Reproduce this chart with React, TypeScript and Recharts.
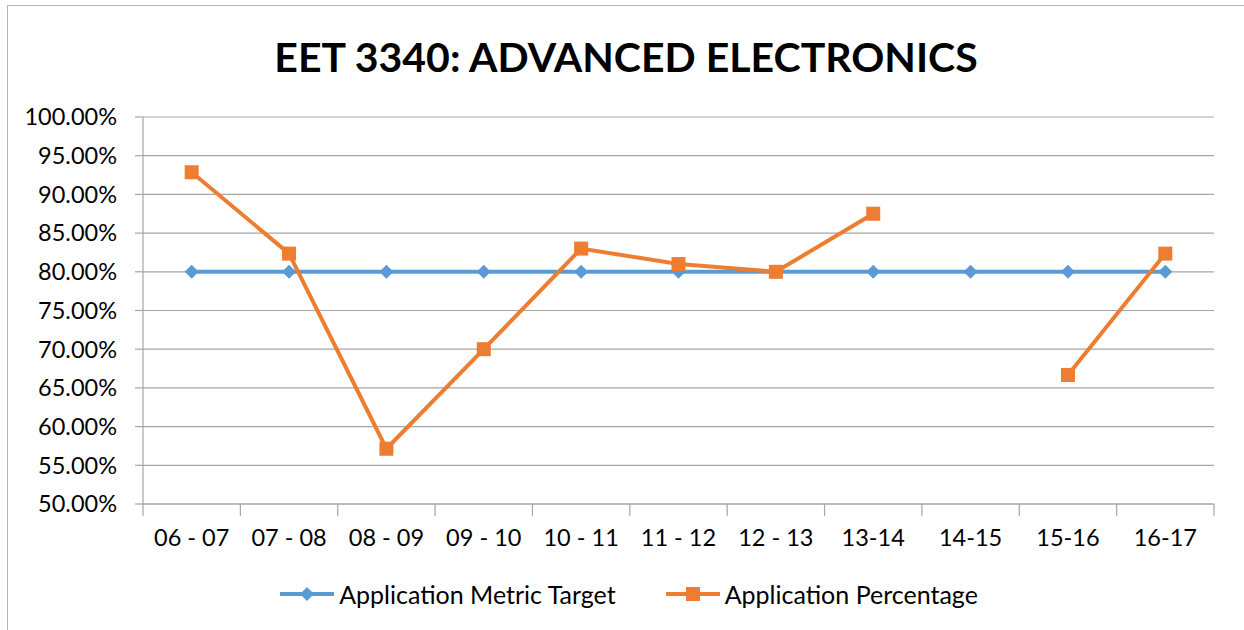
import React from 'react';
import { LineChart, Line, XAxis, YAxis, CartesianGrid, Legend } from 'recharts';

const years = ['06 - 07', '07 - 08', '08 - 09', '09 - 10', '10 - 11', '11 - 12', '12 - 13', '13-14', '14-15', '15-16', '16-17'];
const target = [80, 80, 80, 80, 80, 80, 80, 80, 80, 80, 80];
const applied: (number | null)[] = [92.86, 82.35, 57.14, 70, 83, 81, 80, 87.5, null, 66.67, 82.35];
const yTicks = [50, 55, 60, 65, 70, 75, 80, 85, 90, 95, 100];

const data = years.map((name, i) => ({ name, target: target[i], applied: applied[i] }));

const W = 1244;
const H = 630;
const LEFT = 143;
const RIGHT = 30;
const STEP = (W - LEFT - RIGHT) / years.length;
const BLUE = '#5b9bd5';
const ORANGE = '#ed7d31';
const GRID = '#a6a6a6';
const FONT = 'Lato, "Liberation Sans", sans-serif';

const Diamond = (props: any) => {
	const { cx, cy } = props;
	if (cx == null || cy == null) return null;
	return <path d={`M${cx},${cy - 7}L${cx + 7},${cy}L${cx},${cy + 7}L${cx - 7},${cy}Z`} fill={BLUE} />;
};

const Square = (props: any) => {
	const { cx, cy, value } = props;
	if (cx == null || cy == null || value == null) return null;
	return <rect x={cx - 7} y={cy - 7} width={14} height={14} fill={ORANGE} />;
};

const XTick = (props: any) => {
	const { x, y, payload, index } = props;
	return (
		<g>
			<line x1={x - STEP / 2} x2={x - STEP / 2} y1={y} y2={y + 12} stroke={GRID} strokeWidth={1.2} />
			{index === years.length - 1 && (
				<line x1={x + STEP / 2} x2={x + STEP / 2} y1={y} y2={y + 12} stroke={GRID} strokeWidth={1.2} />
			)}
			<text x={x} y={y + 42} textAnchor="middle" fontSize={23.5} fill="#000" fontFamily={FONT}>
				{payload.value}
			</text>
		</g>
	);
};

const LegendBox = () => (
	<div style={{ height: 50, display: 'flex', justifyContent: 'center', alignItems: 'center', fontFamily: FONT, fontSize: 25, color: '#000', paddingLeft: 42 }}>
		<svg width={58} height={20}>
			<line x1={2} x2={56} y1={10} y2={10} stroke={BLUE} strokeWidth={4} />
			<path d="M29,3L36,10L29,17L22,10Z" fill={BLUE} />
		</svg>
		<span style={{ marginLeft: 3, marginRight: 48 }}>Application Metric Target</span>
		<svg width={58} height={20}>
			<line x1={2} x2={56} y1={10} y2={10} stroke={ORANGE} strokeWidth={4} />
			<rect x={22} y={3} width={14} height={14} fill={ORANGE} />
		</svg>
		<span style={{ marginLeft: 3 }}>Application Percentage</span>
	</div>
);

export default function App() {
	return (
		<div style={{ position: 'absolute', left: 0, top: 0, width: W, height: H, background: '#fff', overflow: 'hidden' }}>
			<div style={{ position: 'absolute', left: 7, top: 5, width: W, height: H, border: '1.5px solid #b4b4b4', boxSizing: 'border-box' }} />
			<div
				style={{
					position: 'absolute',
					left: 0,
					width: 1252,
					top: 31,
					textAlign: 'center',
					fontFamily: FONT,
					fontWeight: 700,
					fontSize: 41,
					lineHeight: '52px',
					color: '#000',
				}}
			>
				EET 3340: ADVANCED ELECTRONICS
			</div>
			<LineChart width={W} height={H} data={data} margin={{ top: 117, right: RIGHT, bottom: 11, left: 0 }}>
				<CartesianGrid vertical={false} stroke={GRID} strokeWidth={1.2} />
				<XAxis
					dataKey="name"
					height={65}
					padding={{ left: STEP / 2, right: STEP / 2 }}
					tickLine={false}
					tickSize={0}
					tickMargin={0}
					stroke={GRID}
					strokeWidth={1.2}
					tick={<XTick />}
					interval={0}
				/>
				<YAxis
					width={LEFT}
					domain={[50, 100]}
					ticks={yTicks}
					tickFormatter={(v: number) => v.toFixed(2) + '%'}
					tickSize={8}
					tickMargin={18}
					stroke={GRID}
					strokeWidth={1.2}
					tick={{ fontSize: 23.5, fill: '#000', fontFamily: FONT }}
					allowDataOverflow
				/>
				<Legend verticalAlign="bottom" height={50} content={<LegendBox />} />
				<Line
					dataKey="target"
					name="Application Metric Target"
					stroke={BLUE}
					strokeWidth={4}
					dot={<Diamond />}
					activeDot={false}
					isAnimationActive={false}
				/>
				<Line
					dataKey="applied"
					name="Application Percentage"
					stroke={ORANGE}
					strokeWidth={4}
					dot={<Square />}
					activeDot={false}
					connectNulls={false}
					isAnimationActive={false}
				/>
			</LineChart>
		</div>
	);
}
